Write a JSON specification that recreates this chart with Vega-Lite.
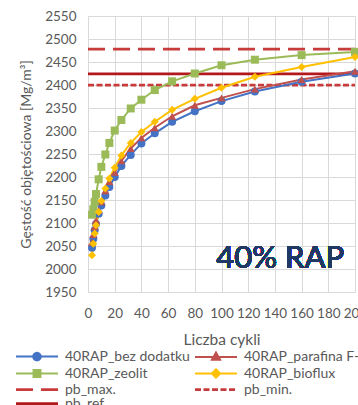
{
  "$schema": "https://vega.github.io/schema/vega-lite/v6.json",
  "width": 267,
  "height": 276,
  "autosize": {"type": "none"},
  "padding": {"left": 88, "top": 16, "right": 3, "bottom": 113},
  "background": "white",
  "config": {
    "view": {"stroke": null},
    "font": "Lato",
    "axis": {
      "labelFont": "Lato", "labelFontSize": 13.5, "labelColor": "#595959",
      "titleFont": "Lato", "titleFontSize": 15.5, "titleColor": "#595959", "titleFontWeight": "normal",
      "gridColor": "#D9D9D9", "gridWidth": 1, "domain": false, "ticks": false, "tickSize": 0
    }
  },
  "data": {
    "values": [
      {"series": "40RAP_bez dodatku", "cycles": 3, "density": 2046},
      {"series": "40RAP_bez dodatku", "cycles": 4, "density": 2066},
      {"series": "40RAP_bez dodatku", "cycles": 5, "density": 2084},
      {"series": "40RAP_bez dodatku", "cycles": 6, "density": 2098},
      {"series": "40RAP_bez dodatku", "cycles": 8, "density": 2120},
      {"series": "40RAP_bez dodatku", "cycles": 10, "density": 2138},
      {"series": "40RAP_bez dodatku", "cycles": 13, "density": 2160},
      {"series": "40RAP_bez dodatku", "cycles": 16, "density": 2178},
      {"series": "40RAP_bez dodatku", "cycles": 20, "density": 2200},
      {"series": "40RAP_bez dodatku", "cycles": 25, "density": 2224},
      {"series": "40RAP_bez dodatku", "cycles": 32, "density": 2248},
      {"series": "40RAP_bez dodatku", "cycles": 40, "density": 2273},
      {"series": "40RAP_bez dodatku", "cycles": 50, "density": 2295},
      {"series": "40RAP_bez dodatku", "cycles": 63, "density": 2320},
      {"series": "40RAP_bez dodatku", "cycles": 80, "density": 2343},
      {"series": "40RAP_bez dodatku", "cycles": 100, "density": 2365},
      {"series": "40RAP_bez dodatku", "cycles": 125, "density": 2386},
      {"series": "40RAP_bez dodatku", "cycles": 160, "density": 2407},
      {"series": "40RAP_bez dodatku", "cycles": 200, "density": 2425},
      {"series": "40RAP_parafina F-T", "cycles": 3, "density": 2058},
      {"series": "40RAP_parafina F-T", "cycles": 4, "density": 2075},
      {"series": "40RAP_parafina F-T", "cycles": 5, "density": 2092},
      {"series": "40RAP_parafina F-T", "cycles": 6, "density": 2106},
      {"series": "40RAP_parafina F-T", "cycles": 8, "density": 2128},
      {"series": "40RAP_parafina F-T", "cycles": 10, "density": 2146},
      {"series": "40RAP_parafina F-T", "cycles": 13, "density": 2170},
      {"series": "40RAP_parafina F-T", "cycles": 16, "density": 2190},
      {"series": "40RAP_parafina F-T", "cycles": 20, "density": 2210},
      {"series": "40RAP_parafina F-T", "cycles": 25, "density": 2235},
      {"series": "40RAP_parafina F-T", "cycles": 32, "density": 2262},
      {"series": "40RAP_parafina F-T", "cycles": 40, "density": 2285},
      {"series": "40RAP_parafina F-T", "cycles": 50, "density": 2307},
      {"series": "40RAP_parafina F-T", "cycles": 63, "density": 2332},
      {"series": "40RAP_parafina F-T", "cycles": 80, "density": 2356},
      {"series": "40RAP_parafina F-T", "cycles": 100, "density": 2372},
      {"series": "40RAP_parafina F-T", "cycles": 125, "density": 2391},
      {"series": "40RAP_parafina F-T", "cycles": 160, "density": 2412},
      {"series": "40RAP_parafina F-T", "cycles": 200, "density": 2430},
      {"series": "40RAP_zeolit", "cycles": 3, "density": 2118},
      {"series": "40RAP_zeolit", "cycles": 4, "density": 2130},
      {"series": "40RAP_zeolit", "cycles": 5, "density": 2146},
      {"series": "40RAP_zeolit", "cycles": 6, "density": 2163},
      {"series": "40RAP_zeolit", "cycles": 8, "density": 2195},
      {"series": "40RAP_zeolit", "cycles": 10, "density": 2222},
      {"series": "40RAP_zeolit", "cycles": 13, "density": 2249},
      {"series": "40RAP_zeolit", "cycles": 16, "density": 2274},
      {"series": "40RAP_zeolit", "cycles": 20, "density": 2301},
      {"series": "40RAP_zeolit", "cycles": 25, "density": 2324},
      {"series": "40RAP_zeolit", "cycles": 32, "density": 2349},
      {"series": "40RAP_zeolit", "cycles": 40, "density": 2368},
      {"series": "40RAP_zeolit", "cycles": 50, "density": 2389},
      {"series": "40RAP_zeolit", "cycles": 63, "density": 2408},
      {"series": "40RAP_zeolit", "cycles": 80, "density": 2425},
      {"series": "40RAP_zeolit", "cycles": 100, "density": 2443},
      {"series": "40RAP_zeolit", "cycles": 125, "density": 2455},
      {"series": "40RAP_zeolit", "cycles": 160, "density": 2465},
      {"series": "40RAP_zeolit", "cycles": 200, "density": 2472},
      {"series": "40RAP_bioflux", "cycles": 3, "density": 2030},
      {"series": "40RAP_bioflux", "cycles": 4, "density": 2055},
      {"series": "40RAP_bioflux", "cycles": 5, "density": 2077},
      {"series": "40RAP_bioflux", "cycles": 6, "density": 2095},
      {"series": "40RAP_bioflux", "cycles": 8, "density": 2124},
      {"series": "40RAP_bioflux", "cycles": 10, "density": 2148},
      {"series": "40RAP_bioflux", "cycles": 13, "density": 2175},
      {"series": "40RAP_bioflux", "cycles": 16, "density": 2197},
      {"series": "40RAP_bioflux", "cycles": 20, "density": 2220},
      {"series": "40RAP_bioflux", "cycles": 25, "density": 2247},
      {"series": "40RAP_bioflux", "cycles": 32, "density": 2274},
      {"series": "40RAP_bioflux", "cycles": 40, "density": 2298},
      {"series": "40RAP_bioflux", "cycles": 50, "density": 2320},
      {"series": "40RAP_bioflux", "cycles": 63, "density": 2346},
      {"series": "40RAP_bioflux", "cycles": 80, "density": 2370},
      {"series": "40RAP_bioflux", "cycles": 100, "density": 2394},
      {"series": "40RAP_bioflux", "cycles": 125, "density": 2418},
      {"series": "40RAP_bioflux", "cycles": 160, "density": 2439},
      {"series": "40RAP_bioflux", "cycles": 200, "density": 2461},
      {"series": "pb_max.", "cycles": 0, "density": 2478},
      {"series": "pb_max.", "cycles": 200, "density": 2478},
      {"series": "pb_min.", "cycles": 0, "density": 2400},
      {"series": "pb_min.", "cycles": 200, "density": 2400},
      {"series": "pb_ref", "cycles": 0, "density": 2424},
      {"series": "pb_ref", "cycles": 200, "density": 2424}
    ]
  },
  "encoding": {
    "x": {
      "field": "cycles", "type": "quantitative",
      "scale": {"domain": [0, 200], "nice": false},
      "axis": {"values": [0, 20, 40, 60, 80, 100, 120, 140, 160, 180, 200], "title": "Liczba cykli", "labelPadding": 14, "titlePadding": 13, "labelFlush": false, "labelOverlap": false}
    },
    "y": {
      "field": "density", "type": "quantitative",
      "scale": {"domain": [1950, 2550], "nice": false, "zero": false},
      "axis": {"values": [1950, 2000, 2050, 2100, 2150, 2200, 2250, 2300, 2350, 2400, 2450, 2500, 2550], "format": "d", "title": "Gęstość objętościowa [Mg/m³]", "titleFontSize": 14, "labelPadding": 12, "titlePadding": 11, "labelOverlap": false}
    },
    "color": {
      "field": "series", "type": "nominal",
      "scale": {
        "domain": ["40RAP_bez dodatku", "40RAP_zeolit", "pb_max.", "pb_ref", "40RAP_parafina F-T", "40RAP_bioflux", "pb_min."],
        "range": ["#4472C4", "#9BBB59", "#C73B3B", "#B3181D", "#C0504D", "#FFC000", "#C73B3B"]
      },
      "legend": {
        "title": null, "orient": "none", "legendX": -71, "legendY": 333.5,
        "columns": 2, "columnPadding": -1, "rowPadding": 0, "padding": 0,
        "symbolSize": 256, "symbolStrokeWidth": 2, "symbolOffset": 13,
        "labelFont": "Lato", "labelFontSize": 14, "labelColor": "#595959", "labelOffset": 21, "labelLimit": 400,
        "encode": {
          "symbols": {
            "update": {
              "shape": {"signal": "datum.value === '40RAP_bez dodatku' ? 'M-2.625,0H2.625M0.47,0A0.47,0.47,0,1,1,-0.47,0A0.47,0.47,0,1,1,0.47,0Z' : datum.value === '40RAP_parafina F-T' ? 'M-2.625,0H2.625M0,-0.55L0.5,0.33L-0.5,0.33Z' : datum.value === '40RAP_zeolit' ? 'M-2.625,0H2.625M-0.43,-0.43H0.43V0.43H-0.43Z' : datum.value === '40RAP_bioflux' ? 'M-2.625,0H2.625M0,-0.52L0.52,0L0,0.52L-0.52,0Z' : 'M-2.625,0H2.625'"},
              "fill": {"scale": "color", "field": "value"},
              "stroke": {"scale": "color", "field": "value"},
              "strokeDash": {"signal": "datum.value === 'pb_max.' ? [17, 8] : datum.value === 'pb_min.' ? [6, 2.5] : [1, 0]"},
              "strokeWidth": {"signal": "indexof(['pb_max.', 'pb_min.', 'pb_ref'], datum.value) >= 0 ? 2.75 : 2"},
              "opacity": {"value": 1}
            }
          }
        }
      }
    }
  },
  "layer": [
    {
      "transform": [{"filter": {"field": "series", "oneOf": ["pb_max.", "pb_min.", "pb_ref"]}}],
      "mark": {"type": "line", "strokeWidth": 2.75},
      "encoding": {
        "strokeDash": {
          "field": "series", "type": "nominal",
          "scale": {"domain": ["pb_max.", "pb_min.", "pb_ref"], "range": [[17, 8], [6, 2.5], [1, 0]]},
          "legend": null
        }
      }
    },
    {
      "transform": [{"filter": {"field": "series", "oneOf": ["40RAP_bez dodatku", "40RAP_parafina F-T", "40RAP_zeolit", "40RAP_bioflux"]}}],
      "mark": {"type": "line", "strokeWidth": 2},
      "encoding": {}
    },
    {
      "transform": [{"filter": {"field": "series", "oneOf": ["40RAP_bez dodatku", "40RAP_parafina F-T", "40RAP_zeolit", "40RAP_bioflux"]}}],
      "mark": {"type": "point", "filled": true, "size": 64, "opacity": 1},
      "encoding": {
        "shape": {
          "field": "series", "type": "nominal",
          "scale": {"domain": ["40RAP_bez dodatku", "40RAP_parafina F-T", "40RAP_zeolit", "40RAP_bioflux"], "range": ["circle", "triangle-up", "square", "diamond"]},
          "legend": null
        }
      }
    },
    {
      "mark": {"type": "text", "font": "Lato", "fontSize": 31, "fontWeight": "normal", "align": "center", "baseline": "middle"},
      "encoding": {
        "x": {"datum": 144},
        "y": {"datum": 2021},
        "color": {"value": "#203864"},
        "text": {"value": "40% RAP"}
      }
    }
  ]
}
